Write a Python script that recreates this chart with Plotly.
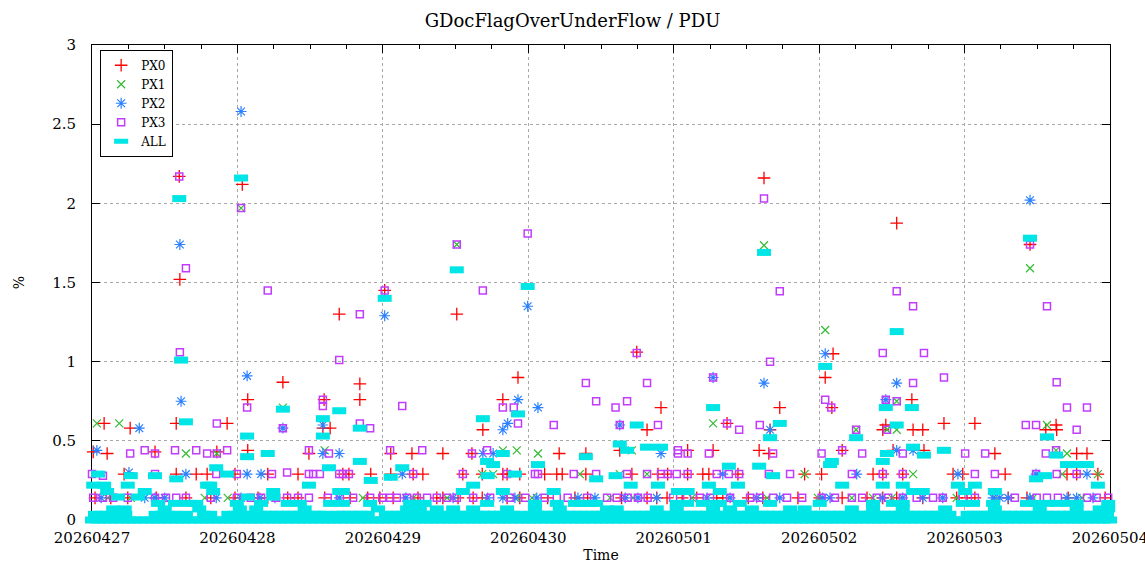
import pandas as pd
import plotly.graph_objects as go

# ---------------- data (hours since 2026-04-27 00:00, value in %) ----------------
start_label = "2026-04-27 00:00"
tick_labels = ["20260427", "20260428", "20260429", "20260430",
               "20260501", "20260502", "20260503", "20260504"]
series_names = ["PX0", "PX1", "PX2", "PX3", "ALL"]

px0_hours = [0.2, 0.5, 2.0, 2.5, 3.1, 5.3, 5.9, 6.3, 10.4, 10.6, 13.9, 13.9, 14.4, 14.5, 15.5, 17.2, 19.0, 19.6, 20.6, 22.3, 23.6, 23.6,
             24.8, 25.7, 25.7, 27.4, 29.0, 29.0, 31.5, 32.3, 34.0, 34.0, 35.8, 38.1, 38.3, 38.4, 39.3, 40.8, 41.4, 42.4, 42.6, 44.2, 44.2, 45.5, 46.0, 47.5,
             48.3, 49.3, 49.3, 49.7, 52.8, 53.0, 53.8, 54.6, 56.9, 57.9, 57.9, 60.2, 60.4, 61.2, 62.7, 62.9, 64.4, 64.4, 64.5, 67.8, 67.8, 68.5, 68.5, 70.3, 70.6, 70.6,
             74.7, 75.2, 76.7, 77.1, 77.6, 79.7, 81.5, 81.5, 81.8, 87.1, 87.4, 89.1, 89.9, 91.6, 91.6, 93.2, 93.4, 93.9, 94.9, 95.0,
             97.4, 98.3, 98.3, 99.8, 100.8, 101.8, 102.5, 103.1, 104.1, 104.8, 106.6, 108.3, 110.1, 110.7, 110.9, 111.7, 111.9, 113.5, 116.5, 117.6,
             120.1, 120.4, 121.0, 122.1, 122.3, 123.8, 123.8, 127.9, 128.9, 130.5, 130.5, 130.5, 131.0, 132.2, 132.8, 132.8, 133.8, 135.3, 135.5, 137.1, 137.1, 137.3, 140.6,
             142.1, 142.7, 143.7, 144.4, 145.7, 145.7, 149.0, 150.7, 151.2, 154.3, 154.8, 157.4, 159.1, 159.2, 160.9, 161.1, 162.5, 162.5, 164.2, 166.0, 167.2]
px0_pct = [0.43, 0.14, 0.61, 0.42, 0.14, 0.29, 0.14, 0.58, 0.43, 0.14, 0.29, 0.61, 2.17, 1.52, 0.14, 0.29, 0.29, 0.14, 0.43, 0.61, 0.29, 0.14,
           2.12, 0.76, 0.44, 0.14, 0.29, 0.14, 0.87, 0.14, 0.29, 0.14, 0.42, 0.58, 0.76, 0.14, 0.58, 1.30, 0.29, 0.29, 0.14, 0.86, 0.76, 0.14, 0.29, 0.14,
           1.45, 0.42, 0.29, 0.14, 0.42, 0.29, 0.14, 0.29, 0.14, 0.42, 0.14, 1.30, 0.14, 0.29, 0.42, 0.14, 0.29, 0.14, 0.57, 0.76, 0.29, 0.29, 0.14, 0.90, 0.29, 0.14,
           0.29, 0.14, 0.29, 0.42, 0.29, 0.14, 0.42, 0.29, 0.14, 0.44, 0.14, 0.29, 1.06, 0.57, 0.14, 0.14, 0.29, 0.71, 0.14, 0.29,
           0.14, 0.44, 0.29, 0.14, 0.29, 0.29, 0.44, 0.14, 0.14, 0.61, 0.29, 0.14, 0.44, 0.14, 2.16, 0.42, 0.57, 0.71, 0.14, 0.29,
           0.14, 0.29, 0.90, 0.71, 1.05, 0.44, 0.14, 0.14, 0.29, 0.29, 0.57, 0.14, 0.60, 0.44, 0.14, 1.875, 0.29, 0.76, 0.57, 0.57, 0.14, 0.44, 0.61,
           0.29, 0.14, 0.29, 0.14, 0.61, 0.14, 0.42, 0.29, 0.14, 0.14, 1.74, 0.57, 0.60, 0.57, 0.29, 0.14, 0.42, 0.29, 0.42, 0.29, 0.14]

px1_hours = [0.8, 2.6, 4.5, 6.4, 15.5, 18.6, 20.6, 22.4,
             24.6, 31.5, 38.4, 44.7,
             53.0, 58.6, 60.2, 64.4, 66.2, 67.8,
             70.1, 70.1, 72.6, 73.6, 80.5, 85.5, 87.1, 89.1, 89.3, 91.6,
             99.0, 102.5, 110.9, 111.4, 117.6, 119.8,
             121.0, 125.4, 126.1, 128.9, 131.2, 132.0, 132.8, 132.8, 135.5,
             142.7, 149.0, 154.8, 155.3, 157.6, 159.1, 160.1, 160.9, 163.4, 166.0]
px1_pct = [0.61, 0.14, 0.61, 0.14, 0.42, 0.14, 0.42, 0.14,
           1.97, 0.71, 0.44, 0.14,
           0.14, 0.14, 1.74, 0.29, 0.29, 0.44,
           0.44, 0.14, 0.14, 0.42, 0.29, 0.14, 0.29, 0.44, 0.14, 0.29,
           0.14, 0.61, 1.735, 0.14, 0.29, 0.14,
           1.20, 0.14, 0.57, 0.14, 0.57, 0.14, 0.75, 0.57, 0.29,
           0.14, 0.14, 1.59, 0.14, 0.60, 0.44, 0.29, 0.42, 0.14, 0.29]

px2_hours = [0.8, 1.5, 6.1, 7.8, 8.7, 10.4, 12.0, 14.5, 14.7, 15.5, 20.5,
             24.6, 24.6, 25.6, 25.6, 27.7, 27.9, 30.2, 31.5, 38.1, 38.1, 40.8, 40.8,
             48.3, 51.2, 51.8, 59.6, 64.5, 65.3, 66.2, 67.8, 67.8, 68.6, 69.8, 70.3,
             71.9, 73.4, 73.6, 80.2, 83.0, 87.1, 88.0, 90.1, 93.2, 93.9,
             101.5, 102.5, 104.1, 105.3, 109.7, 110.9, 111.9, 113.5,
             120.6, 121.0, 121.8, 126.2, 130.4, 131.0, 132.8, 132.8, 133.8, 135.5, 137.1, 140.4,
             142.9, 148.7, 149.8, 151.2, 154.8, 154.8, 155.8, 160.9, 162.5, 164.2, 165.2]
px2_pct = [0.44, 0.14, 0.30, 0.58, 0.14, 0.14, 0.14, 1.74, 0.75, 0.29, 0.14,
           2.58, 0.14, 0.91, 0.29, 0.14, 0.29, 0.14, 0.58, 0.60, 0.42, 0.42, 0.14,
           1.29, 0.29, 0.14, 0.14, 0.42, 0.14, 0.42, 0.57, 0.14, 0.61, 0.14, 0.76,
           1.35, 0.14, 0.71, 0.14, 0.14, 0.60, 0.14, 0.14, 0.14, 0.42,
           0.14, 0.90, 0.29, 0.14, 0.14, 0.865, 0.57, 0.14,
           0.14, 1.05, 0.14, 0.29, 0.14, 0.76, 0.865, 0.44, 0.14, 0.44, 0.14, 0.14,
           0.29, 0.14, 0.14, 0.14, 2.02, 0.14, 0.29, 0.14, 0.14, 0.29, 0.14]

px3_hours = [0.0, 0.2, 1.8, 1.8, 3.5, 5.9, 6.3, 8.7, 10.4, 10.4, 10.4, 12.2, 13.7, 13.9, 14.4, 14.5, 15.5, 15.5, 17.2, 19.0, 19.6, 20.5, 20.6, 20.6, 22.3, 23.9, 23.9,
             24.6, 25.6, 26.2, 27.9, 29.0, 29.7, 30.4, 31.5, 32.2, 32.2, 34.0, 35.8, 35.8, 35.8, 36.5, 37.6, 38.1, 38.1, 38.9, 39.1, 40.8, 40.8, 40.9, 41.4, 42.4, 43.1, 44.2, 44.2, 45.9, 45.9, 47.9,
             48.3, 49.2, 49.2, 50.3, 51.2, 52.0, 53.0, 53.6, 54.5, 55.3, 56.9, 58.6, 60.2, 60.2, 61.2, 62.7, 62.9, 64.5, 65.2, 65.7, 67.8, 68.5, 69.0, 69.6, 70.3,
             71.5, 71.9, 73.1, 73.6, 74.7, 76.2, 76.7, 78.5, 79.5, 81.5, 81.7, 83.2, 83.2, 85.0, 86.4, 86.6, 87.1, 88.3, 88.3, 88.4, 89.9, 90.1, 91.6, 91.6, 91.7, 93.4, 93.9, 95.0,
             95.9, 96.5, 96.7, 96.7, 98.2, 98.3, 98.3, 100.3, 101.8, 102.0, 102.5, 103.1, 104.8, 105.1, 105.3, 106.8, 106.8, 108.6, 110.2, 110.2, 110.9, 111.7, 111.9, 112.4, 112.4, 113.5, 114.7, 115.2, 117.2,
             120.4, 120.4, 121.0, 122.0, 122.6, 123.8, 125.4, 125.4, 126.1, 127.1, 127.1, 129.5, 130.5, 130.5, 131.0, 131.2, 131.4, 132.8, 132.8, 133.8, 133.8, 133.8, 135.5, 135.5, 136.1, 137.3, 138.8, 140.4, 140.6,
             143.7, 144.1, 145.7, 145.7, 147.4, 149.0, 152.3, 154.1, 154.8, 155.8, 155.8, 155.9, 157.4, 157.6, 157.6, 159.1, 159.2, 159.2, 159.4, 160.9, 162.5, 162.5, 164.2, 164.2, 165.8, 167.7]
px3_pct = [0.29, 0.14, 0.28, 0.14, 0.14, 0.14, 0.42, 0.44, 0.42, 0.29, 0.14, 0.14, 0.44, 0.14, 2.17, 1.06, 1.59, 0.14, 0.44, 0.42, 0.14, 0.29, 0.61, 0.42, 0.44, 0.29, 0.14,
           1.97, 0.71, 0.14, 0.14, 1.45, 0.29, 0.14, 0.58, 0.30, 0.14, 0.14, 0.44, 0.29, 0.14, 0.29, 0.29, 0.76, 0.72, 0.14, 0.42, 1.01, 0.29, 0.14, 0.29, 0.29, 0.14, 1.30, 0.61, 0.14, 0.58, 0.14,
           1.45, 0.44, 0.14, 0.14, 0.72, 0.14, 0.29, 0.14, 0.44, 0.14, 0.14, 0.14, 1.74, 0.14, 0.29, 0.42, 0.14, 1.45, 0.44, 0.14, 0.71, 0.29, 0.14, 0.71, 0.61,
           0.14, 1.81, 0.29, 0.29, 0.14, 0.60, 0.14, 0.14, 0.29, 0.865, 0.14, 0.75, 0.29, 0.14, 0.71, 0.14, 0.60, 0.75, 0.29, 0.14, 1.055, 0.14, 0.865, 0.29, 0.14, 0.60, 0.29, 0.29,
           0.14, 0.29, 0.44, 0.42, 0.14, 0.42, 0.29, 0.14, 0.42, 0.14, 0.90, 0.29, 0.61, 0.29, 0.14, 0.57, 0.29, 0.14, 0.60, 0.14, 2.03, 0.29, 1.0, 0.42, 0.14, 1.445, 0.14, 0.29, 0.14,
           0.42, 0.14, 0.76, 0.71, 0.14, 0.44, 0.29, 0.14, 0.57, 0.42, 0.14, 0.14, 1.055, 0.29, 0.76, 0.57, 0.14, 1.445, 0.75, 0.42, 0.29, 0.14, 1.35, 0.865, 0.14, 1.055, 0.14, 0.14, 0.90,
           0.14, 0.42, 0.29, 0.14, 0.42, 0.29, 0.14, 0.60, 1.74, 0.60, 0.29, 0.14, 0.42, 1.35, 0.14, 0.44, 0.87, 0.29, 0.14, 0.71, 0.57, 0.29, 0.71, 0.14, 0.14, 0.14]

# ALL: readings above the baseline
all_hours = [0.2, 1.0, 2.0, 2.5, 3.5, 4.3, 5.4, 5.9, 6.4, 7.6, 8.7, 10.4, 10.9, 12.0, 13.7, 13.9, 14.4, 14.7, 15.5, 16.0, 17.2, 17.7, 19.0, 19.5, 20.0, 20.5, 22.3, 23.9,
             24.4, 24.6, 25.6, 25.6, 25.7, 27.1, 27.9, 29.0, 29.9, 29.9, 31.5, 32.3, 34.3, 35.1, 35.8, 38.1, 38.1, 39.1, 39.3, 40.8, 40.8, 41.4, 41.4, 44.2, 44.2, 45.9, 46.0, 47.2,
             48.3, 49.3, 51.2, 52.0, 52.5, 53.8, 54.1, 54.9, 56.9, 59.6, 60.2, 61.2, 62.9, 62.9, 64.5, 65.2, 65.2, 65.3, 66.2, 67.8, 67.8, 68.5, 69.8, 70.3,
             71.9, 73.1, 73.1, 73.6, 76.2, 76.7, 77.2, 79.7, 80.8, 81.5, 82.1, 83.2, 83.2, 85.0, 86.4, 86.6, 87.1, 88.3, 88.9, 89.9, 91.6, 93.2, 93.4, 93.9,
             96.5, 96.5, 96.7, 98.2, 98.3, 100.8, 101.8, 102.5, 102.5, 103.1, 103.6, 103.6, 105.1, 105.3, 106.6, 106.9, 108.9, 110.1, 110.9, 111.9, 111.9, 112.4, 113.5, 115.2, 117.6,
             120.1, 121.0, 121.8, 122.1, 123.8, 125.4, 126.1, 128.9, 128.9, 130.5, 130.5, 131.0, 131.2, 132.2, 132.8, 132.8, 133.8, 133.8, 133.8, 135.3, 135.5, 135.5, 137.1, 137.3, 140.6, 140.8,
             142.9, 143.7, 144.1, 145.4, 145.7, 148.7, 149.0, 149.0, 154.3, 154.8, 155.6, 155.8, 156.4, 157.3, 157.6, 157.6, 159.1, 159.2, 160.9, 160.9, 162.5, 162.5, 162.5, 164.2, 166.0, 166.3, 167.7, 167.7]
all_pct = [0.22, 0.29, 0.22, 0.18, 0.07, 0.145, 0.07, 0.22, 0.28, 0.145, 0.18, 0.28, 0.105, 0.07, 0.105, 0.26, 2.03, 1.01, 0.62, 0.105, 0.105, 0.07, 0.22, 0.22, 0.18, 0.33, 0.29, 0.105,
           0.07, 2.16, 0.53, 0.40, 0.145, 0.07, 0.105, 0.42, 0.145, 0.18, 0.70, 0.105, 0.105, 0.07, 0.22, 0.64, 0.53, 0.33, 0.105, 0.69, 0.18, 0.18, 0.105, 0.58, 0.37, 0.105, 0.25, 0.07,
           1.40, 0.27, 0.33, 0.07, 0.105, 0.105, 0.07, 0.105, 0.07, 0.07, 1.58, 0.18, 0.22, 0.07, 0.64, 0.37, 0.105, 0.28, 0.35, 0.42, 0.18, 0.07, 0.29, 0.67,
           1.475, 0.105, 0.07, 0.35, 0.18, 0.105, 0.07, 0.105, 0.105, 0.40, 0.105, 0.26, 0.105, 0.07, 0.28, 0.07, 0.48, 0.44, 0.22, 0.60, 0.46, 0.07, 0.22, 0.46,
           0.105, 0.07, 0.18, 0.105, 0.18, 0.105, 0.22, 0.71, 0.07, 0.105, 0.18, 0.105, 0.34, 0.07, 0.22, 0.105, 0.07, 0.34, 1.69, 0.52, 0.105, 0.28, 0.61, 0.07, 0.07,
           0.105, 0.97, 0.35, 0.37, 0.22, 0.07, 0.52, 0.105, 0.07, 0.37, 0.22, 0.71, 0.42, 0.105, 1.19, 0.60, 0.22, 0.105, 0.07, 0.71, 0.46, 0.18, 0.18, 0.41, 0.44, 0.07,
           0.22, 0.105, 0.18, 0.105, 0.22, 0.105, 0.18, 0.07, 0.105, 1.78, 0.105, 0.26, 0.07, 0.28, 0.525, 0.105, 0.41, 0.105, 0.35, 0.105, 0.35, 0.105, 0.07, 0.35, 0.22, 0.07, 0.105, 0.07]

# ALL: readings of ~0.036 %
all_low_hours = [0.5, 1.5, 2.5, 3.5, 4.5, 5.5, 10.5, 11.5, 12.5, 13.5, 15.5, 18.5, 19.5, 22.5, 23.5,
                 24.5, 25.5, 26.5, 27.5, 28.5, 29.5, 30.5, 31.5, 32.5, 33.5, 34.5, 35.5, 36.5, 37.5, 38.5,
                 40.5, 41.5, 42.5, 43.5, 44.5, 45.5,
                 48.5, 49.5, 50.5, 51.5, 52.5, 53.5, 54.5, 55.5, 56.5, 57.5, 58.5, 59.5, 60.5, 61.5, 62.5, 63.5,
                 64.5, 65.5, 66.5, 67.5, 68.5, 69.5, 70.5,
                 72.5, 73.5, 74.5, 75.5, 76.5, 77.5, 78.5, 79.5, 80.5, 81.5, 82.5, 83.5, 84.5, 85.5, 86.5, 87.5,
                 88.5, 89.5, 90.5, 91.5, 92.5, 93.5, 94.5, 95.5, 96.5, 97.5, 98.5, 99.5, 100.5, 101.5, 102.5, 103.5, 104.5,
                 106.5, 107.5, 108.5, 109.5, 110.5, 111.5, 112.5, 113.5, 114.5, 115.5, 116.5, 117.5, 118.5, 119.5,
                 120.5, 121.5, 122.5, 123.5, 124.5, 125.5, 126.5, 127.5, 128.5, 129.5, 130.5, 131.5, 132.5, 133.5,
                 134.5, 135.5, 136.5, 137.5, 138.5, 139.5, 140.5, 141.5,
                 144.5, 145.5, 146.5, 147.5, 148.5, 149.5, 150.5, 151.5, 152.5, 153.5, 154.5, 155.5, 156.5,
                 157.5, 158.5, 159.5, 160.5, 161.5, 162.5, 163.5, 164.5, 165.5, 166.5, 167.5]
all_low_level = 0.036

# ALL: zero readings
all_zero_hours = [0, 1, 2, 3, 4, 5, 6, 7, 8, 9, 10, 11, 12, 13, 14, 15, 16, 17, 18, 19, 20, 21, 22, 23,
                  24, 25, 26, 27, 28, 29, 30, 31, 32, 33, 34, 35, 36, 37, 38, 39, 40, 41, 42, 43, 44, 45, 46, 47,
                  48, 49, 50, 51, 52, 53, 54, 55, 56, 57, 58, 59, 60, 61, 62, 63, 64, 65, 66, 67, 68, 69, 70, 71,
                  72, 73, 74, 75, 76, 77, 78, 79, 80, 81, 82, 83, 84, 85, 86, 87, 88, 89, 90, 91, 92, 93, 94, 95,
                  96, 97, 98, 99, 100, 101, 102, 103, 104, 105, 106, 107, 108, 109, 110, 111, 112, 113, 114, 115, 116, 117, 118, 119,
                  120, 121, 122, 123, 124, 125, 126, 127, 128, 129, 130, 131, 132, 133, 134, 135, 136, 137, 138, 139, 140, 141, 142, 143,
                  144, 145, 146, 147, 148, 149, 150, 151, 152, 153, 154, 155, 156, 157, 158, 159, 160, 161, 162, 163, 164, 165, 166, 167, 168]

# ---------------- figure ----------------
FONT = "DejaVu Serif"
start = pd.Timestamp(start_label)


def to_time(hours):
    return [start + pd.Timedelta(hours=float(h)) for h in hours]


def pairs(h, v):
    n = min(len(h), len(v))
    return to_time(h[:n]), list(v[:n])


fig = go.Figure()

styles = {
    "PX0": dict(symbol="cross-thin-open", color="#ff0000", size=9, line=dict(width=1.3, color="#ff0000")),
    "PX1": dict(symbol="x-thin-open", color="#33bb33", size=8, line=dict(width=1.2, color="#33bb33")),
    "PX2": dict(symbol="asterisk-open", color="#2a80ff", size=9, line=dict(width=1.2, color="#2a80ff")),
    "PX3": dict(symbol="square-open", color="#c23cff", size=7, line=dict(width=1.5, color="#c23cff")),
    # filled wide rectangle, drawn as a thick horizontal bar
    "ALL": dict(symbol="line-ew", color="#00e5e5", size=10, line=dict(width=7, color="#00e5e5")),
}

data = {
    "PX0": (px0_hours, px0_pct),
    "PX1": (px1_hours, px1_pct),
    "PX2": (px2_hours, px2_pct),
    "PX3": (px3_hours, px3_pct),
}
for name in series_names[:4]:
    x, y = pairs(*data[name])
    fig.add_trace(go.Scatter(x=x, y=y, mode="markers", name=name,
                             marker=styles[name], cliponaxis=False))

all_h = list(all_zero_hours) + list(all_low_hours) + list(all_hours)
all_v = [0.0] * len(all_zero_hours) + [all_low_level] * len(all_low_hours) + list(all_pct)
x, y = pairs(all_h, all_v)
fig.add_trace(go.Scatter(x=x, y=y, mode="markers", name="ALL",
                         marker=styles["ALL"], cliponaxis=False))

tick_vals = [pd.Timestamp(t[:4] + "-" + t[4:6] + "-" + t[6:]) for t in tick_labels]
minor_vals = list(pd.date_range(tick_vals[0], tick_vals[-1], freq="6h"))

fig.update_layout(
    width=1145, height=565,
    margin=dict(l=92, r=35, t=45, b=45),
    paper_bgcolor="white", plot_bgcolor="white",
    font=dict(family=FONT, size=14, color="black"),
    title=dict(text="GDocFlagOverUnderFlow / PDU", x=0.5, xanchor="center",
               y=0.963, yanchor="middle", font=dict(family=FONT, size=18, color="black")),
    showlegend=True,
    legend=dict(x=0.008, y=0.99, xanchor="left", yanchor="top", bgcolor="white",
                bordercolor="black", borderwidth=1, tracegroupgap=0,
                font=dict(family=FONT, size=12, color="black")),
)

fig.update_xaxes(
    range=[tick_vals[0], tick_vals[-1]], automargin=False,
    tickmode="array", tickvals=tick_vals, ticktext=tick_labels,
    tickfont=dict(family=FONT, size=15, color="black"),
    ticks="inside", ticklen=8, tickcolor="black", ticklabelstandoff=4,
    ticklabeloverflow="allow",
    showline=True, linecolor="black", linewidth=1, mirror="allticks",
    showgrid=True, gridcolor="#a8a8a8", griddash="dot", gridwidth=1,
    zeroline=False, layer="below traces",
    minor=dict(tickmode="array", tickvals=minor_vals, ticks="inside", ticklen=4,
               tickcolor="black", showgrid=False),
    title=dict(text="Time", font=dict(family=FONT, size=14, color="black"), standoff=4),
)
fig.update_yaxes(
    range=[0, 3], automargin=False, tickmode="array", tickvals=[0, 0.5, 1, 1.5, 2, 2.5, 3],
    ticktext=["0", "0.5", "1", "1.5", "2", "2.5", "3"],
    tickfont=dict(family=FONT, size=15, color="black"),
    ticks="inside", ticklen=8, tickcolor="black", ticklabelstandoff=12,
    showline=True, linecolor="black", linewidth=1, mirror="allticks",
    showgrid=True, gridcolor="#a8a8a8", griddash="dot", gridwidth=1,
    zeroline=False, layer="below traces",
    title=dict(text="%", font=dict(family=FONT, size=14, color="black"), standoff=24),
)

fig.write_html("out.html", config={"displayModeBar": False},
               post_script="document.body.style.margin='0';document.body.style.padding='0';")
